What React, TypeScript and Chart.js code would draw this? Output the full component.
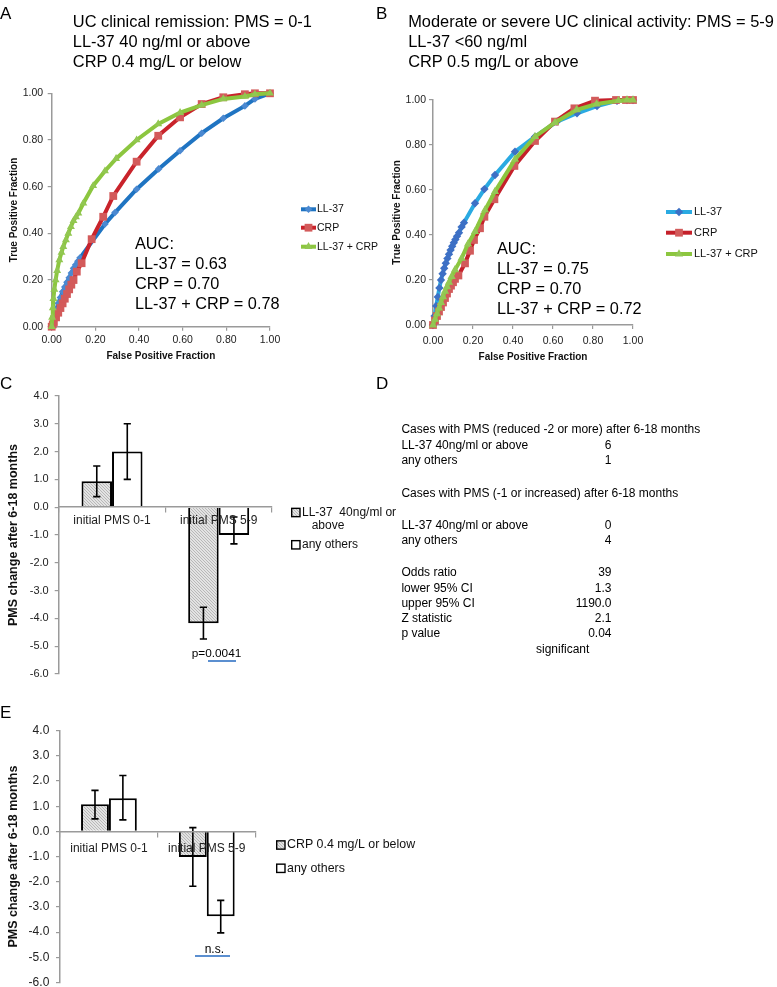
import React, { useEffect, useRef } from 'react';
import { Chart, registerables } from 'chart.js';

Chart.register(...registerables);

const FONT = '"Liberation Sans", Arial, Helvetica, sans-serif';
const PAGE_W = 777;
const PAGE_H = 987;

// ---------- Panel A data (ROC, remission) ----------
const aTitle = ['UC clinical remission: PMS = 0-1', 'LL-37 40 ng/ml or above', 'CRP 0.4 mg/L or below'];
const aAuc = ['AUC:', 'LL-37 = 0.63', 'CRP = 0.70', 'LL-37 + CRP = 0.78'];
const rocSeriesLabels = ['LL-37', 'CRP', 'LL-37 + CRP'];
const aLl37Fpr = [0, 0.01, 0.02, 0.03, 0.04, 0.05, 0.06, 0.07, 0.08, 0.09, 0.10, 0.11, 0.12, 0.13, 0.244, 0.29, 0.389, 0.49, 0.588, 0.687, 0.786, 0.885, 0.931, 1.0];
const aLl37Tpr = [0, 0.04, 0.07, 0.10, 0.125, 0.15, 0.17, 0.19, 0.21, 0.23, 0.25, 0.265, 0.28, 0.295, 0.44, 0.489, 0.589, 0.676, 0.754, 0.829, 0.893, 0.946, 0.976, 1.0];
const aCrpFpr = [0, 0.005, 0.01, 0.02, 0.03, 0.04, 0.05, 0.06, 0.07, 0.08, 0.09, 0.10, 0.115, 0.137, 0.183, 0.236, 0.282, 0.389, 0.488, 0.588, 0.687, 0.786, 0.885, 0.931, 1.0];
const aCrpTpr = [0, 0.01, 0.02, 0.04, 0.06, 0.08, 0.10, 0.12, 0.14, 0.16, 0.18, 0.20, 0.236, 0.272, 0.375, 0.471, 0.56, 0.707, 0.818, 0.897, 0.954, 0.983, 0.996, 1.0, 1.0];
const aBothFpr = [0, 0.002, 0.005, 0.008, 0.012, 0.018, 0.025, 0.035, 0.045, 0.053, 0.065, 0.076, 0.088, 0.1, 0.111, 0.122, 0.145, 0.19, 0.244, 0.295, 0.389, 0.488, 0.588, 0.687, 0.786, 0.885, 0.931, 1.0];
const aBothTpr = [0, 0.04, 0.08, 0.12, 0.16, 0.2, 0.24, 0.286, 0.318, 0.343, 0.372, 0.4, 0.428, 0.454, 0.47, 0.486, 0.529, 0.604, 0.667, 0.72, 0.8, 0.869, 0.917, 0.949, 0.976, 0.986, 0.996, 1.0];

// ---------- Panel B data (ROC, activity) ----------
const bTitle = ['Moderate or severe UC clinical activity: PMS = 5-9', 'LL-37 <60 ng/ml', 'CRP 0.5 mg/L or above'];
const bAuc = ['AUC:', 'LL-37 = 0.75', 'CRP = 0.70', 'LL-37 + CRP = 0.72'];
const bLl37Fpr = [0, 0.008, 0.016, 0.024, 0.032, 0.04, 0.048, 0.056, 0.064, 0.072, 0.08, 0.088, 0.096, 0.104, 0.112, 0.12, 0.13, 0.143, 0.155, 0.21, 0.257, 0.31, 0.41, 0.51, 0.62, 0.72, 0.82, 0.92, 0.97, 1.0];
const bLl37Tpr = [0, 0.04, 0.085, 0.125, 0.165, 0.2, 0.228, 0.252, 0.275, 0.296, 0.315, 0.333, 0.35, 0.366, 0.38, 0.394, 0.41, 0.436, 0.455, 0.541, 0.604, 0.667, 0.77, 0.837, 0.904, 0.941, 0.973, 0.996, 1.0, 1.0];
const bCrpFpr = [0, 0.01, 0.02, 0.03, 0.04, 0.05, 0.06, 0.07, 0.08, 0.09, 0.1, 0.11, 0.127, 0.16, 0.185, 0.205, 0.235, 0.257, 0.307, 0.407, 0.51, 0.61, 0.707, 0.81, 0.915, 0.965, 1.0];
const bCrpTpr = [0, 0.02, 0.04, 0.06, 0.08, 0.1, 0.12, 0.14, 0.16, 0.175, 0.19, 0.205, 0.22, 0.274, 0.33, 0.378, 0.43, 0.481, 0.559, 0.707, 0.818, 0.904, 0.963, 0.997, 1.0, 1.0, 1.0];
const bBothFpr = [0, 0.01, 0.02, 0.03, 0.04, 0.05, 0.06, 0.07, 0.08, 0.093, 0.11, 0.143, 0.175, 0.21, 0.26, 0.31, 0.41, 0.51, 0.61, 0.718, 0.818, 0.927, 0.97, 1.0];
const bBothTpr = [0, 0.025, 0.05, 0.075, 0.1, 0.125, 0.15, 0.17, 0.19, 0.215, 0.245, 0.296, 0.36, 0.415, 0.511, 0.593, 0.736, 0.837, 0.9, 0.956, 0.982, 0.997, 1.0, 1.0];

// ---------- Panel C data (bars) ----------
const barCategories = ['initial PMS 0-1', 'initial PMS 5-9'];
const cSeriesLabels = ['LL-37  40ng/ml or above', 'any others'];
const cHighLl37 = [0.93, -4.17];
const cHighLl37Low = [0.38, -4.74];
const cHighLl37High = [1.48, -3.6];
const cOthers = [2.0, -1.0];
const cOthersLow = [1.0, -1.32];
const cOthersHigh = [3.0, -0.35];
const cPValue = 'p=0.0041';

// ---------- Panel D data (table) ----------
const dLabels = [
  'Cases with PMS (reduced -2 or more) after 6-18 months',
  'LL-37 40ng/ml or above',
  'any others',
  'Cases with PMS (-1 or increased) after 6-18 months',
  'LL-37 40ng/ml or above',
  'any others',
  'Odds ratio',
  'lower 95% CI',
  'upper 95% CI',
  'Z statistic',
  'p value',
];
const dValues = ['', '6', '1', '', '0', '4', '39', '1.3', '1190.0', '2.1', '0.04'];
const dVerdict = 'significant';

// ---------- Panel E data (bars) ----------
const eSeriesLabels = ['CRP 0.4 mg/L or below', 'any others'];
const eLowCrp = [1.08, -1.02];
const eLowCrpLow = [0.5, -2.18];
const eLowCrpHigh = [1.63, 0.15];
const eOthers = [1.32, -3.37];
const eOthersLow = [0.46, -4.03];
const eOthersHigh = [2.22, -2.74];
const ePValue = 'n.s.';

const barYTitle = 'PMS change after 6-18 months';

// ---------- layout constants ----------
const dRowY = [429.3, 445, 460, 492.7, 525, 540, 572, 587.5, 602.5, 617.7, 633];

// ---------- helpers ----------
const fixW = (w: number) => (s: any) => {
  s.width = w;
  s.paddingTop = 0; s.paddingBottom = 0; s.paddingLeft = 0; s.paddingRight = 0;
};
const fixH = (h: number) => (s: any) => {
  s.height = h;
  s.paddingTop = 0; s.paddingBottom = 0; s.paddingLeft = 0; s.paddingRight = 0;
};

function drawMarker(ctx: CanvasRenderingContext2D, style: string, x: number, y: number, r: number, color: string) {
  ctx.fillStyle = color;
  ctx.beginPath();
  if (style === 'rectRot') {
    ctx.moveTo(x, y - r); ctx.lineTo(x + r, y); ctx.lineTo(x, y + r); ctx.lineTo(x - r, y);
  } else if (style === 'rect') {
    const s = r * Math.SQRT1_2;
    ctx.rect(x - s, y - s, 2 * s, 2 * s);
  } else {
    const a = (2 * Math.PI) / 3;
    ctx.moveTo(x, y - r);
    ctx.lineTo(x + r * Math.sin(a), y - r * Math.cos(a));
    ctx.lineTo(x + r * Math.sin(2 * a), y - r * Math.cos(2 * a));
  }
  ctx.closePath();
  ctx.fill();
}

type LegendItem = { x1: number; x2: number; y: number; tx: number };

function makeRocLegend(items: LegendItem[], fontSize: number) {
  return {
    id: 'rocLegend',
    afterDraw(chart: any) {
      const { ctx } = chart;
      ctx.save();
      chart.data.datasets.forEach((d: any, i: number) => {
        const it = items[i];
        ctx.strokeStyle = d.borderColor;
        ctx.lineWidth = d.borderWidth;
        ctx.beginPath();
        ctx.moveTo(it.x1, it.y);
        ctx.lineTo(it.x2, it.y);
        ctx.stroke();
        drawMarker(ctx, d.pointStyle, (it.x1 + it.x2) / 2, it.y, d.pointRadius, d.pointBackgroundColor);
        ctx.fillStyle = '#111';
        ctx.font = `${fontSize}px ${FONT}`;
        ctx.textBaseline = 'middle';
        ctx.textAlign = 'left';
        ctx.fillText(d.label, it.tx, it.y);
      });
      ctx.restore();
    },
  };
}

type BarLegendItem = { bx: number; y: number; tx: number; lines: string[]; x2?: number; gap?: number };

function makeBarLegend(items: BarLegendItem[], box: number, fontSize: number) {
  return {
    id: 'barLegend',
    afterDraw(chart: any) {
      const { ctx } = chart;
      ctx.save();
      chart.data.datasets.forEach((d: any, i: number) => {
        const it = items[i];
        ctx.fillStyle = d.backgroundColor;
        ctx.fillRect(it.bx, it.y - box / 2, box, box);
        ctx.strokeStyle = '#000';
        ctx.lineWidth = 1.4;
        ctx.strokeRect(it.bx, it.y - box / 2, box, box);
        ctx.fillStyle = '#111';
        ctx.font = `${fontSize}px ${FONT}`;
        ctx.textBaseline = 'middle';
        ctx.textAlign = 'left';
        it.lines.forEach((ln, k) => {
          ctx.fillText(ln, k === 0 ? it.tx : (it.x2 ?? it.tx), it.y + k * (it.gap ?? 14));
        });
      });
      ctx.restore();
    },
  };
}

function makeErrorBars(lows: number[][], highs: number[][]) {
  return {
    id: 'errorBars',
    afterDatasetsDraw(chart: any) {
      const { ctx } = chart;
      const ys = chart.scales.y;
      ctx.save();
      ctx.strokeStyle = '#000';
      ctx.lineWidth = 1.6;
      chart.data.datasets.forEach((_d: any, i: number) => {
        const meta = chart.getDatasetMeta(i);
        meta.data.forEach((el: any, j: number) => {
          const x = el.x;
          const y1 = ys.getPixelForValue(lows[i][j]);
          const y2 = ys.getPixelForValue(highs[i][j]);
          ctx.beginPath();
          ctx.moveTo(x, y1); ctx.lineTo(x, y2);
          ctx.moveTo(x - 3.6, y1); ctx.lineTo(x + 3.6, y1);
          ctx.moveTo(x - 3.6, y2); ctx.lineTo(x + 3.6, y2);
          ctx.stroke();
        });
      });
      ctx.restore();
    },
  };
}

function makeHatch(ctx: CanvasRenderingContext2D) {
  const c = document.createElement('canvas');
  c.width = 3; c.height = 3;
  const g = c.getContext('2d')!;
  g.fillStyle = '#e3e3e3';
  g.fillRect(0, 0, 3, 3);
  g.fillStyle = '#b8b8b8';
  g.fillRect(0, 0, 1, 1); g.fillRect(1, 1, 1, 1); g.fillRect(2, 2, 1, 1);
  return ctx.createPattern(c, 'repeat') as CanvasPattern;
}

type RocSeries = { label: string; fpr: number[]; tpr: number[]; line: string; point: string; marker: string; radius: number; order: number };

type RocLayout = {
  left: number; right: number; top: number; bottom: number; padLeft: number;
  yTitlePad: number; yTickPad: number; xTickPad: number; xTitlePad: number;
  legend: LegendItem[]; legendFont: number;
};

function rocConfig(series: RocSeries[], L: RocLayout) {
  const tickFont = { family: FONT, size: 10.5 };
  const titleFont = { family: FONT, size: 10, weight: 'bold' as const };
  const xH = 40;
  return {
    type: 'scatter' as const,
    data: {
      datasets: series.map((s) => ({
        label: s.label,
        data: s.fpr.map((x, i) => ({ x, y: s.tpr[i] })),
        showLine: true,
        borderColor: s.line,
        borderWidth: 4,
        pointStyle: s.marker,
        pointRadius: s.radius,
        pointBackgroundColor: s.point,
        pointBorderColor: s.point,
        pointBorderWidth: 0,
        tension: 0,
        clip: false as any,
        order: s.order,
      })),
    },
    options: {
      responsive: false,
      animation: false as const,
      devicePixelRatio: 1,
      events: [],
      layout: { padding: { left: L.padLeft, top: L.top, right: PAGE_W - L.right, bottom: PAGE_H - L.bottom - xH } },
      plugins: { legend: { display: false }, tooltip: { enabled: false } },
      scales: {
        x: {
          type: 'linear' as const, min: 0, max: 1,
          ticks: { stepSize: 0.2, callback: (v: any) => Number(v).toFixed(2), font: tickFont, color: '#222', padding: L.xTickPad, maxRotation: 0 },
          grid: { display: true, drawOnChartArea: false, drawTicks: true, tickLength: 4, color: '#9a9a9a', lineWidth: 1.2 },
          border: { display: true, color: '#9a9a9a', width: 1.5 },
          title: { display: true, text: 'False Positive Fraction', font: titleFont, color: '#111', padding: { top: 0, bottom: L.xTitlePad } },
          afterFit: fixH(xH),
        },
        y: {
          type: 'linear' as const, min: 0, max: 1,
          ticks: { stepSize: 0.2, callback: (v: any) => Number(v).toFixed(2), font: tickFont, color: '#222', padding: L.yTickPad },
          grid: { display: true, drawOnChartArea: false, drawTicks: true, tickLength: 4, color: '#9a9a9a', lineWidth: 1.2 },
          border: { display: true, color: '#9a9a9a', width: 1.5 },
          title: { display: true, text: 'True Positive Fraction', font: titleFont, color: '#111', padding: { top: L.yTitlePad, bottom: 0 } },
          afterFit: fixW(L.left - L.padLeft),
        },
      },
    },
    plugins: [makeRocLegend(L.legend, L.legendFont)],
  };
}

type BarLayout = {
  left: number; right: number; top: number; bottom: number;
  catPct: number; yTitlePad: number; yTickPad: number; yTickFont: number;
  xTickPad: number; legend: BarLegendItem[]; legendFont: number;
};

function barConfig(
  ctx: CanvasRenderingContext2D,
  labels: string[],
  values: number[][],
  lows: number[][],
  highs: number[][],
  L: BarLayout,
) {
  const hatch = makeHatch(ctx);
  const fills = [hatch, '#ffffff'];
  return {
    type: 'bar' as const,
    data: {
      labels: barCategories,
      datasets: values.map((v, i) => ({
        label: labels[i],
        data: v,
        backgroundColor: fills[i],
        borderColor: '#000',
        borderWidth: 2,
        categoryPercentage: L.catPct,
        barPercentage: 1,
      })),
    },
    options: {
      responsive: false,
      animation: false as const,
      devicePixelRatio: 1,
      events: [],
      layout: { padding: { left: 0, top: L.top, right: PAGE_W - L.right, bottom: PAGE_H - L.bottom } },
      plugins: { legend: { display: false }, tooltip: { enabled: false } },
      scales: {
        x: {
          position: { y: 0 } as any,
          ticks: { font: { family: FONT, size: 12 }, color: '#222', padding: L.xTickPad, autoSkip: false, maxRotation: 0, z: 2 },
          grid: { display: true, drawOnChartArea: false, drawTicks: true, offset: true, tickLength: 5, color: '#9a9a9a', lineWidth: 1.2 },
          border: { display: true, color: '#9a9a9a', width: 1.5, z: 2 },
          afterFit: fixH(0),
        },
        y: {
          min: -6, max: 4,
          ticks: { stepSize: 1, callback: (v: any) => Number(v).toFixed(1), font: { family: FONT, size: L.yTickFont }, color: '#222', padding: L.yTickPad },
          grid: { display: true, drawOnChartArea: false, drawTicks: true, tickLength: 4, color: '#9a9a9a', lineWidth: 1.2 },
          border: { display: true, color: '#9a9a9a', width: 1.5 },
          title: { display: true, text: barYTitle, font: { family: FONT, size: 12.5, weight: 'bold' as const }, color: '#111', padding: { top: L.yTitlePad, bottom: 0 } },
          afterFit: fixW(L.left),
        },
      },
    },
    plugins: [makeErrorBars(lows, highs), makeBarLegend(L.legend, 8.3, L.legendFont)],
  };
}

function ChartCanvas({ build }: { build: (ctx: CanvasRenderingContext2D) => any }) {
  const ref = useRef<HTMLCanvasElement>(null);
  useEffect(() => {
    const canvas = ref.current!;
    const ctx = canvas.getContext('2d')!;
    const chart = new Chart(ctx, build(ctx));
    return () => chart.destroy();
  }, []);
  return (
    <canvas
      ref={ref}
      width={PAGE_W}
      height={PAGE_H}
      style={{ position: 'absolute', left: 0, top: 0, width: PAGE_W, height: PAGE_H }}
    />
  );
}

function Txt({ x, y, size, text, bold, align = 'left' }: { x: number; y: number; size: number; text: string; bold?: boolean; align?: 'left' | 'right' | 'center' }) {
  const lh = Math.round(size * 1.3);
  const style: React.CSSProperties = {
    position: 'absolute',
    top: y - lh / 2,
    fontSize: size,
    lineHeight: `${lh}px`,
    fontFamily: FONT,
    fontWeight: bold ? 'bold' : 'normal',
    whiteSpace: 'pre',
    color: '#000',
  };
  if (align === 'left') style.left = x;
  else if (align === 'right') style.right = PAGE_W - x;
  else {
    style.left = x;
    style.transform = 'translateX(-50%)';
  }
  return <div style={style}>{text}</div>;
}

const seriesA: RocSeries[] = [
  { label: rocSeriesLabels[0], fpr: aLl37Fpr, tpr: aLl37Tpr, line: '#1f74c2', point: '#4b89d1', marker: 'rectRot', radius: 3.8, order: 3 },
  { label: rocSeriesLabels[1], fpr: aCrpFpr, tpr: aCrpTpr, line: '#c9232b', point: '#d35a5a', marker: 'rect', radius: 5.5, order: 2 },
  { label: rocSeriesLabels[2], fpr: aBothFpr, tpr: aBothTpr, line: '#8cc63f', point: '#92c751', marker: 'triangle', radius: 4.6, order: 1 },
];
const seriesB: RocSeries[] = [
  { label: rocSeriesLabels[0], fpr: bLl37Fpr, tpr: bLl37Tpr, line: '#2aaae2', point: '#3d70c5', marker: 'rectRot', radius: 4.2, order: 3 },
  { label: rocSeriesLabels[1], fpr: bCrpFpr, tpr: bCrpTpr, line: '#c5202a', point: '#d25b5b', marker: 'rect', radius: 5.5, order: 2 },
  { label: rocSeriesLabels[2], fpr: bBothFpr, tpr: bBothTpr, line: '#8cc63f', point: '#93c854', marker: 'triangle', radius: 4.8, order: 1 },
];

const layoutA: RocLayout = {
  left: 51.7, right: 270, top: 93.3, bottom: 326.7, padLeft: 0,
  yTitlePad: 8, yTickPad: 4.5, xTickPad: 3, xTitlePad: 4.7,
  legend: [
    { x1: 301, x2: 316, y: 209.3, tx: 317 },
    { x1: 301, x2: 316, y: 227.7, tx: 317 },
    { x1: 301, x2: 316, y: 246.7, tx: 317 },
  ],
  legendFont: 10.5,
};
const layoutB: RocLayout = {
  left: 433, right: 633, top: 100, bottom: 325, padLeft: 380,
  yTitlePad: 11, yTickPad: 3, xTickPad: 5.5, xTitlePad: 2,
  legend: [
    { x1: 666, x2: 692, y: 212, tx: 694 },
    { x1: 666, x2: 692, y: 232.7, tx: 694 },
    { x1: 666, x2: 692, y: 254, tx: 694 },
  ],
  legendFont: 11,
};
const layoutC: BarLayout = {
  left: 58.7, right: 272, top: 396, bottom: 674,
  catPct: 0.572, yTitlePad: 6, yTickPad: 6, yTickFont: 11, xTickPad: 1,
  legend: [
    { bx: 291.7, y: 512.5, tx: 302, lines: ['LL-37  40ng/ml or', 'above'], x2: 311.7, gap: 13.5 },
    { bx: 291.7, y: 544.8, tx: 302, lines: ['any others'] },
  ],
  legendFont: 12,
};
const layoutE: BarLayout = {
  left: 60, right: 255.7, top: 730.7, bottom: 982.5,
  catPct: 0.57, yTitlePad: 5.8, yTickPad: 6.7, yTickFont: 12, xTickPad: 5,
  legend: [
    { bx: 276.7, y: 845, tx: 287, lines: [eSeriesLabels[0]] },
    { bx: 276.7, y: 868.3, tx: 287, lines: [eSeriesLabels[1]] },
  ],
  legendFont: 12.4,
};

export default function App() {
  return (
    <div style={{ position: 'absolute', left: 0, top: 0, width: PAGE_W, height: PAGE_H, overflow: 'hidden', background: '#fff' }}>
      <ChartCanvas build={() => rocConfig(seriesA, layoutA)} />
      <ChartCanvas build={() => rocConfig(seriesB, layoutB)} />
      <ChartCanvas build={(ctx) => barConfig(ctx, cSeriesLabels, [cHighLl37, cOthers], [cHighLl37Low, cOthersLow], [cHighLl37High, cOthersHigh], layoutC)} />
      <ChartCanvas build={(ctx) => barConfig(ctx, eSeriesLabels, [eLowCrp, eOthers], [eLowCrpLow, eOthersLow], [eLowCrpHigh, eOthersHigh], layoutE)} />

      {/* panel letters */}
      <Txt x={0} y={14} size={17} text="A" />
      <Txt x={376} y={14} size={17} text="B" />
      <Txt x={0} y={383.5} size={17} text="C" />
      <Txt x={376} y={383.5} size={17} text="D" />
      <Txt x={0} y={713} size={17} text="E" />

      {/* titles */}
      {aTitle.map((t, i) => <Txt key={'at' + i} x={72.8} y={21 + i * 20} size={16.4} text={t} />)}
      {bTitle.map((t, i) => <Txt key={'bt' + i} x={408.2} y={21 + i * 20} size={16.4} text={t} />)}

      {/* AUC annotations */}
      {aAuc.map((t, i) => <Txt key={'aa' + i} x={135} y={243 + i * 20} size={16.3} text={t} />)}
      {bAuc.map((t, i) => <Txt key={'ba' + i} x={497} y={248 + i * 20.3} size={16.3} text={t} />)}

      {/* p-values */}
      <Txt x={216.5} y={653.3} size={11.8} text={cPValue} align="center" />
      <div style={{ position: 'absolute', left: 208.3, top: 659.8, width: 27.5, height: 2, background: '#5b8fd0' }} />
      <Txt x={214.3} y={949} size={12} text={ePValue} align="center" />
      <div style={{ position: 'absolute', left: 195, top: 954.5, width: 35, height: 2, background: '#5b8fd0' }} />

      {/* panel D table */}
      {dLabels.map((t, i) => <Txt key={'dl' + i} x={401.4} y={dRowY[i]} size={12} text={t} />)}
      {dValues.map((t, i) => (t ? <Txt key={'dv' + i} x={611.5} y={dRowY[i]} size={12} text={t} align="right" /> : null))}
      <Txt x={536} y={649} size={12} text={dVerdict} />
    </div>
  );
}
